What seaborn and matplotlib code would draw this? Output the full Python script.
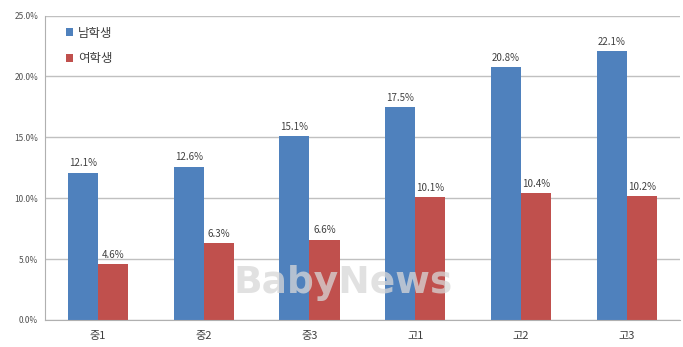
import matplotlib
matplotlib.use('Agg')
import matplotlib.pyplot as plt
import pandas as pd
import seaborn as sns

categories = ['중1', '중2', '중3', '고1', '고2', '고3']
male = [12.1, 12.6, 15.1, 17.5, 20.8, 22.1]
female = [4.6, 6.3, 6.6, 10.1, 10.4, 10.2]
series_names = ['남학생', '여학생']

df = pd.DataFrame({
    'grade': categories * 2,
    'value': male + female,
    'group': [series_names[0]] * len(categories) + [series_names[1]] * len(categories),
})

sns.set_style('white')
plt.rcParams['font.family'] = ['Noto Sans CJK KR', 'DejaVu Sans']

fig = plt.figure(figsize=(6.83, 3.47), dpi=100)
ax = fig.add_axes([0.066, 0.078, 0.929, 0.877])

palette = {'남학생': '#4F81BD', '여학생': '#C0504D'}
sns.barplot(data=df, x='grade', y='value', hue='group', palette=palette,
            width=0.57, saturation=1, linewidth=0, ax=ax, legend=True)

ax.set_ylim(0, 25)
ax.set_yticks([0, 5, 10, 15, 20, 25])
ax.set_yticklabels([f'{v:.1f}%' for v in [0, 5, 10, 15, 20, 25]], fontsize=6, color='#505050')
ax.tick_params(axis='x', labelsize=8, colors='#404040', length=0, pad=8)
ax.tick_params(axis='y', length=3, color='#a0a0a0', pad=2)
ax.set_xlabel('')
ax.set_ylabel('')
ax.yaxis.grid(True, color='#c0c0c0', linewidth=1)
ax.set_axisbelow(True)
for side in ['top', 'right']:
    ax.spines[side].set_visible(False)
ax.spines['left'].set_color('#b0b0b0')
ax.spines['bottom'].set_color('#b0b0b0')

for container in ax.containers:
    ax.bar_label(container, fmt='%.1f%%', fontsize=7, color='#404040', padding=3)

leg = ax.legend(loc='upper left', bbox_to_anchor=(0.015, 1.0), frameon=False,
                fontsize=9, handlelength=0.6, handleheight=0.6, handletextpad=0.4,
                labelspacing=1.0)
for t in leg.get_texts():
    t.set_color('#404040')

ax.text(0.47, 0.12, 'BabyNews', transform=ax.transAxes, fontsize=27, fontweight='bold',
        color='#d8d8d8', alpha=0.75, ha='center', va='center', family=['DejaVu Sans'])

fig.savefig('out.png', dpi=100)
